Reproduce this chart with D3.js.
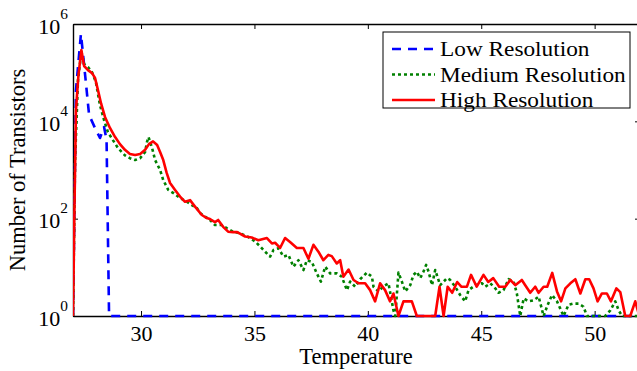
<!DOCTYPE html>
<html>
<head>
<meta charset="utf-8">
<script src="https://cdn.jsdelivr.net/npm/d3@7"></script>
<style>
  body { margin: 0; background: #fff; }
  svg text { font-family: "Liberation Serif", "Times New Roman", serif !important; }
</style>
</head>
<body>
<div id="chart"></div>
<script>
// [temperature, number of transistors] (zero bins sit at 10^0)
const lowRes = [
  [27.00, 1], [27.13, 44000], [27.35, 620000], [27.49, 144000], [27.71, 13500],
  [27.97, 7300], [28.19, 4550], [28.37, 7650], [28.48, 4150], [28.59, 1], [52.0, 1]
];

const mediumRes = [
  [27.00, 1], [27.09, 1500], [27.22, 70000], [27.37, 270000], [27.49, 150000],
  [27.66, 130000], [27.84, 102000], [28.01, 64000], [28.19, 21500], [28.37, 10600],
  [28.54, 6000], [28.76, 4100], [28.99, 2800], [29.29, 2000], [29.51, 1750],
  [29.74, 1600], [29.96, 1750], [30.18, 2350], [30.26, 3750], [30.33, 4750],
  [30.49, 2800], [30.62, 1600], [30.84, 1000], [30.98, 620], [31.20, 390],
  [31.43, 335], [31.72, 265], [32.02, 223], [32.24, 190], [32.46, 165],
  [32.60, 131], [32.82, 110], [33.04, 94], [33.26, 74], [33.56, 74],
  [33.78, 64], [34.06, 54], [34.37, 50], [34.73, 42], [35.03, 34],
  [35.25, 27], [35.47, 21], [35.69, 16.6], [35.84, 22.7], [36.06, 24.6],
  [36.28, 16.6], [36.50, 18], [36.72, 10.3], [36.94, 14], [37.16, 8.8],
  [37.31, 14], [37.53, 13], [37.75, 7.5], [37.93, 5.1], [38.12, 10.3],
  [38.34, 7.5], [38.63, 7.5], [38.85, 6.4], [39.08, 3.4], [39.22, 5.1],
  [39.44, 4], [39.66, 5.7], [39.96, 7.8], [40.18, 6.4], [40.25, 4],
  [40.47, 3.2], [40.69, 4.1], [40.91, 4.7], [41.02, 2.5], [41.13, 1.3],
  [41.21, 1], [41.35, 7.8], [41.50, 5.1], [41.65, 3.2], [41.87, 4.3],
  [42.01, 7], [42.16, 8.1], [42.31, 6], [42.45, 8.1], [42.57, 11.2],
  [42.68, 8.1], [42.83, 4.3], [42.97, 8.8], [43.19, 4.3], [43.49, 6],
  [43.63, 5.5], [43.85, 4], [44.07, 2.7], [44.29, 2], [44.44, 3.4],
  [44.74, 4.3], [45.03, 4.7], [45.18, 4], [45.40, 4.7], [45.62, 3.7],
  [45.76, 3], [45.98, 3.4], [46.21, 5.7], [46.43, 5.1], [46.57, 2.9],
  [46.72, 1], [46.87, 2.3], [47.09, 2], [47.31, 2.1], [47.53, 2.5],
  [47.75, 1], [47.93, 1.7], [48.12, 2.7], [48.34, 2], [48.49, 1.4],
  [48.63, 1], [48.85, 1.7], [49.07, 1.8], [49.29, 1.8], [49.51, 1.55],
  [49.66, 1], [50.25, 1], [50.47, 1], [50.69, 1.3], [50.91, 2],
  [51.06, 1.3], [51.21, 1], [52.00, 1]
];

const highRes = [
  [27.00, 1], [27.07, 240], [27.13, 17000], [27.24, 89000], [27.37, 290000],
  [27.49, 137000], [27.66, 113000], [27.84, 98000], [27.97, 78000], [28.10, 44000],
  [28.24, 23000], [28.41, 12300], [28.63, 7300], [28.85, 4800], [29.07, 3400],
  [29.29, 2600], [29.51, 2140], [29.74, 2040], [29.96, 2140], [30.18, 2600],
  [30.35, 3400], [30.53, 3870], [30.71, 3250], [30.84, 2340], [30.98, 1600],
  [31.13, 870], [31.28, 540], [31.50, 390], [31.72, 285], [31.94, 222],
  [32.16, 240], [32.38, 177], [32.68, 119], [32.90, 103], [33.04, 98],
  [33.26, 85], [33.40, 94], [33.62, 68], [33.84, 54], [34.06, 53],
  [34.24, 53], [34.59, 43], [34.88, 41], [35.17, 36], [35.55, 40],
  [35.77, 31], [35.91, 32], [36.13, 25], [36.35, 40], [36.57, 33],
  [36.87, 25], [37.16, 25], [37.38, 15], [37.60, 29], [37.82, 21],
  [38.04, 14], [38.26, 18], [38.41, 17], [38.63, 12], [38.78, 14],
  [38.92, 6.4], [39.15, 9], [39.37, 5.5], [39.59, 4.7], [39.88, 4.7],
  [40.10, 3.4], [40.32, 2], [40.54, 4.7], [40.76, 3.4], [40.98, 2],
  [41.13, 2.9], [41.35, 1], [41.57, 2], [41.94, 2], [42.16, 1],
  [42.97, 1], [43.16, 4], [43.34, 1], [43.52, 4], [43.72, 3],
  [43.94, 5], [44.12, 4], [44.37, 4], [44.55, 7], [44.80, 4],
  [45.10, 7], [45.31, 5], [45.53, 6], [45.79, 4], [46.06, 4],
  [46.28, 5.5], [46.50, 4.3], [46.79, 5.5], [46.94, 4.3], [47.16, 3],
  [47.38, 4], [47.53, 3], [47.75, 4], [47.91, 4], [48.13, 7.7],
  [48.34, 3.2], [48.52, 2], [48.71, 3.7], [48.93, 4.7], [49.15, 5.7],
  [49.37, 2.9], [49.59, 5.7], [49.76, 5.7], [49.95, 3.7], [50.13, 2],
  [50.32, 2.9], [50.54, 2.9], [50.72, 2], [50.96, 3.7], [51.13, 3.1],
  [51.35, 1], [51.57, 1], [51.79, 2], [51.97, 1]
];

const seriesNames = ['Low Resolution', 'Medium Resolution', 'High Resolution'];
const xTicks = [30, 35, 40, 45, 50];
const yTicks = [1, 1e2, 1e4, 1e6];

const width = 637;
const height = 371;
const margin = { top: 24, right: -3, bottom: 55, left: 73 };
const plotW = width - margin.left - margin.right;
const plotH = height - margin.top - margin.bottom;
const sx = 1.1; // glyphs in the figure are a bit wider than tall

const series = [
  { name: seriesNames[0], data: lowRes, color: '#0000ff', dash: '9,7' },
  { name: seriesNames[1], data: mediumRes, color: '#008000', dash: '3,3' },
  { name: seriesNames[2], data: highRes, color: '#ff0000', dash: null },
];

const x = d3.scaleLinear().domain([27, 52]).range([0, plotW]);
const y = d3.scaleLog().domain([1, 1e6]).range([plotH, 0]);

const svg = d3.select('#chart')
  .append('svg')
  .attr('width', width)
  .attr('height', height);

const chart = svg.append('g')
  .attr('transform', `translate(${margin.left},${margin.top})`);

svg.append('defs').append('clipPath')
  .attr('id', 'plot-clip')
  .append('rect')
  .attr('x', 0)
  .attr('y', -4)
  .attr('width', plotW)
  .attr('height', plotH + 8);

// Axes (box style, ticks inside)
const xBottom = chart.append('g')
  .attr('transform', `translate(0,${plotH})`)
  .call(d3.axisBottom(x).tickValues(xTicks).tickSizeInner(-5).tickSizeOuter(0));

xBottom.selectAll('.tick text')
  .attr('y', 25)
  .attr('dy', null)
  .attr('font-size', 20)
  .attr('fill', '#000')
  .attr('transform', `scale(${sx},1)`);

chart.append('g')
  .call(d3.axisTop(x).tickValues(xTicks).tickSizeInner(-5).tickSizeOuter(0).tickFormat(''));

const yLeft = chart.append('g')
  .call(d3.axisLeft(y).tickValues(yTicks).tickSizeInner(-5).tickSizeOuter(0).tickFormat(''));

chart.append('g')
  .attr('transform', `translate(${plotW},0)`)
  .call(d3.axisRight(y).tickValues(yTicks).tickSizeInner(-5).tickSizeOuter(0).tickFormat(''));

chart.selectAll('.domain').attr('stroke', '#000').attr('stroke-width', 1.4);
chart.selectAll('.tick line').attr('stroke', '#000').attr('stroke-width', 1);

// y tick labels as 10^n
yLeft.selectAll('.tick')
  .append('g')
  .attr('transform', `translate(-5,0) scale(${sx},1)`)
  .append('text')
  .attr('text-anchor', 'end')
  .attr('fill', '#000')
  .attr('font-size', 20)
  .each(function (d) {
    const t = d3.select(this);
    t.append('tspan').attr('dy', 9).text('10');
    t.append('tspan')
      .attr('dy', -15)
      .attr('font-size', 14)
      .text(Math.round(Math.log10(d)));
  });

// Lines
const line = d3.line()
  .x((d) => x(d[0]))
  .y((d) => y(d[1]));

const lines = chart.append('g').attr('clip-path', 'url(#plot-clip)');

series.forEach((s) => {
  lines.append('path')
    .datum(s.data)
    .attr('fill', 'none')
    .attr('stroke', s.color)
    .attr('stroke-width', 2.6)
    .attr('stroke-linejoin', 'round')
    .attr('stroke-dasharray', s.dash)
    .attr('d', line);
});

// Axis titles
svg.append('text')
  .attr('x', 356)
  .attr('y', 364)
  .attr('text-anchor', 'middle')
  .attr('font-size', 22.5)
  .text('Temperature');

svg.append('text')
  .attr('transform', 'translate(25,170) rotate(-90)')
  .attr('text-anchor', 'middle')
  .attr('font-size', 22.5)
  .text('Number of Transistors');

// Legend
const legend = svg.append('g');

legend.append('rect')
  .attr('x', 383)
  .attr('y', 32)
  .attr('width', 247)
  .attr('height', 76)
  .attr('fill', '#fff')
  .attr('stroke', '#000')
  .attr('stroke-width', 1);

const items = legend.selectAll('.legend-item')
  .data(series)
  .enter()
  .append('g')
  .attr('class', 'legend-item')
  .attr('transform', (_, i) => `translate(392,${49 + i * 25.5})`);

items.append('line')
  .attr('x1', 0)
  .attr('x2', 43)
  .attr('stroke', (d) => d.color)
  .attr('stroke-width', 2.6)
  .attr('stroke-dasharray', (d) => d.dash);

items.append('g')
  .attr('transform', 'translate(48,7) scale(1.11,1)')
  .append('text')
  .attr('font-size', 21)
  .text((d) => d.name);
</script>
</body>
</html>
